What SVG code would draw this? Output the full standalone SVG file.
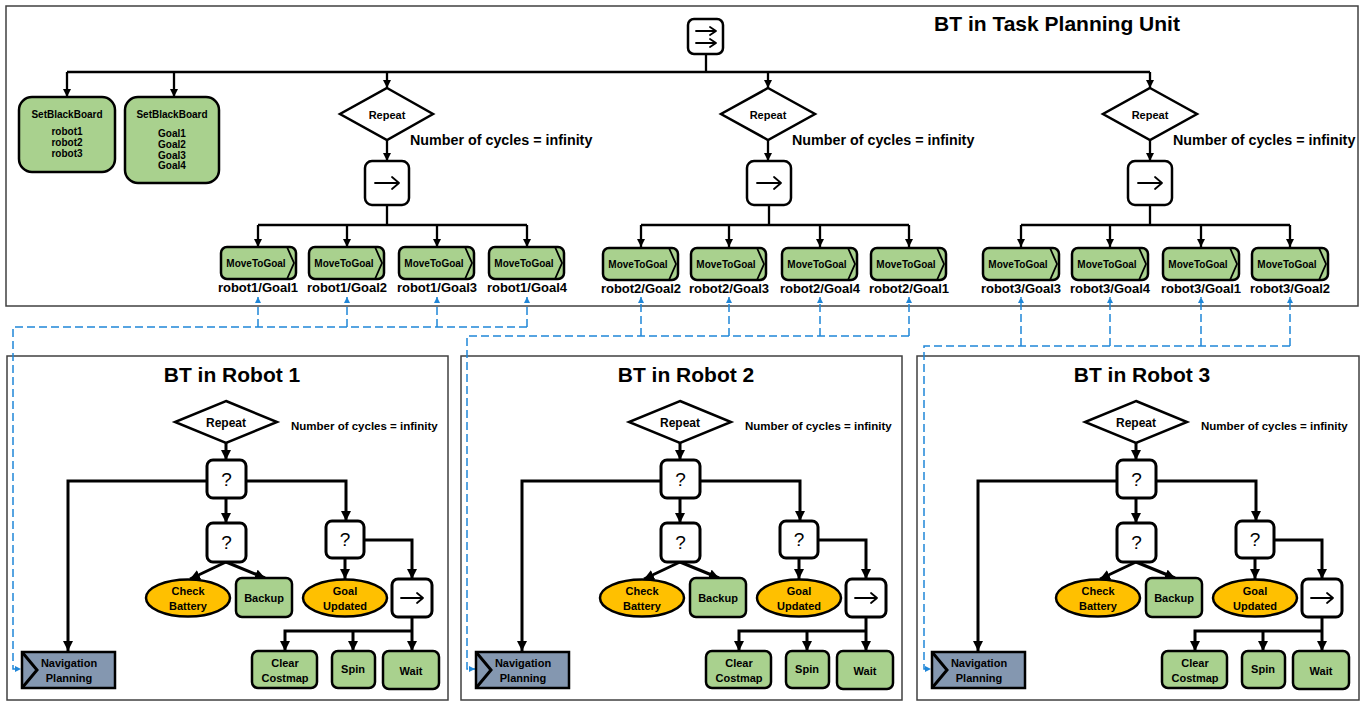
<svg xmlns="http://www.w3.org/2000/svg" width="1369" height="703" viewBox="0 0 1369 703">
<style>
.pn{fill:none;stroke:#404040;stroke-width:1.5}
.g{fill:#a9d18e;stroke:#000;stroke-width:2.5}
.o{fill:#ffc000;stroke:#000;stroke-width:2.5}
.w{fill:#fff;stroke:#000;stroke-width:2.5}
.nv{fill:#8497b0;stroke:#000;stroke-width:2.5}
.c{fill:none;stroke:#000;stroke-width:2.3}
.cr{fill:none;stroke:#000;stroke-width:3}
.d{fill:none;stroke:#1f86d8;stroke-width:1.5;stroke-dasharray:8 4}
.ai{fill:none;stroke:#000;stroke-width:1.8;stroke-linecap:round;stroke-linejoin:round}
.chev{fill:none;stroke:#000;stroke-width:1.8}
text{font-family:"Liberation Sans",Arial,sans-serif;font-weight:bold;text-anchor:middle;fill:#000}
.t{font-size:21px}
.nc{font-size:14.3px;text-anchor:start}
.ncs{font-size:11.5px;text-anchor:start}
.s10{font-size:10px}
.s11{font-size:11px}
.s12{font-size:12px}
.lb{font-size:13px}
.q{font-size:19px;font-weight:normal}
</style>
<defs>
<marker id="ah" viewBox="0 0 10 10" refX="10" refY="5" markerWidth="8" markerHeight="8" markerUnits="userSpaceOnUse" orient="auto"><path d="M0,0 L10,5 L0,10 z" fill="#000"/></marker>
<marker id="ahr" viewBox="0 0 10 10" refX="10" refY="5" markerWidth="10" markerHeight="10" markerUnits="userSpaceOnUse" orient="auto"><path d="M0,0 L10,5 L0,10 z" fill="#000"/></marker>
<marker id="ahb" viewBox="0 0 10 10" refX="10" refY="5" markerWidth="6" markerHeight="6" markerUnits="userSpaceOnUse" orient="auto"><path d="M0,0 L10,5 L0,10 z" fill="#1f86d8"/></marker>
</defs>

<!-- panels -->
<g id="panel-top"><rect class="pn" x="6" y="6" width="1352" height="300"/><text class="t" x="1057" y="31">BT in Task Planning Unit</text></g>
<g id="panel-r1"><rect class="pn" x="7" y="356" width="441" height="344"/><text class="t" x="232" y="382">BT in Robot 1</text></g>
<g id="panel-r2"><rect class="pn" x="461" y="356" width="441" height="344"/><text class="t" x="686" y="382">BT in Robot 2</text></g>
<g id="panel-r3"><rect class="pn" x="917" y="356" width="442" height="344"/><text class="t" x="1142" y="382">BT in Robot 3</text></g>

<!-- top connectors -->
<g id="connectors-top">
<path class="c" d="M706,54 V72 M67,72 H1150"/>
<path class="c" d="M67,72 V97" marker-end="url(#ah)"/>
<path class="c" d="M174,72 V97" marker-end="url(#ah)"/>
<path class="c" d="M387,72 V88" marker-end="url(#ah)"/>
<path class="c" d="M768,72 V88" marker-end="url(#ah)"/>
<path class="c" d="M1150,72 V88" marker-end="url(#ah)"/>
<path class="c" d="M387,140 V161" marker-end="url(#ah)"/>
<path class="c" d="M768,140 V161" marker-end="url(#ah)"/>
<path class="c" d="M1150,140 V161" marker-end="url(#ah)"/>
<path class="c" d="M387,205 V225 M258,225 H527 M769,205 V225 M641,225 H909 M1150,205 V225 M1021,225 H1290"/>
<path class="c" d="M258,225 V247" marker-end="url(#ah)"/>
<path class="c" d="M347,225 V247" marker-end="url(#ah)"/>
<path class="c" d="M437,225 V247" marker-end="url(#ah)"/>
<path class="c" d="M527,225 V247" marker-end="url(#ah)"/>
<path class="c" d="M641,225 V247" marker-end="url(#ah)"/>
<path class="c" d="M729,225 V247" marker-end="url(#ah)"/>
<path class="c" d="M820,225 V247" marker-end="url(#ah)"/>
<path class="c" d="M909,225 V247" marker-end="url(#ah)"/>
<path class="c" d="M1021,225 V247" marker-end="url(#ah)"/>
<path class="c" d="M1110,225 V247" marker-end="url(#ah)"/>
<path class="c" d="M1201,225 V247" marker-end="url(#ah)"/>
<path class="c" d="M1290,225 V247" marker-end="url(#ah)"/>
</g>

<!-- dashed links -->
<g id="connectors-dashed">
<path class="d" d="M258,327 V297" marker-end="url(#ahb)"/>
<path class="d" d="M347,327 V297" marker-end="url(#ahb)"/>
<path class="d" d="M437,327 V297" marker-end="url(#ahb)"/>
<path class="d" d="M527,327 V297" marker-end="url(#ahb)"/>
<path class="d" d="M527,327 H13 V669 H21" marker-end="url(#ahb)"/>
<path class="d" d="M641,336 V297" marker-end="url(#ahb)"/>
<path class="d" d="M729,336 V297" marker-end="url(#ahb)"/>
<path class="d" d="M820,336 V297" marker-end="url(#ahb)"/>
<path class="d" d="M909,336 V297" marker-end="url(#ahb)"/>
<path class="d" d="M909,336 H467 V669 H475" marker-end="url(#ahb)"/>
<path class="d" d="M1021,346 V297" marker-end="url(#ahb)"/>
<path class="d" d="M1110,346 V297" marker-end="url(#ahb)"/>
<path class="d" d="M1201,346 V297" marker-end="url(#ahb)"/>
<path class="d" d="M1290,346 V297" marker-end="url(#ahb)"/>
<path class="d" d="M1290,346 H924 V669 H931" marker-end="url(#ahb)"/>
</g>

<!-- top nodes -->
<g id="root-seq"><rect class="w" x="688" y="19" width="35" height="35" rx="6"/><path class="ai" d="M696,31 H716 M710,27 L716,31 L710,35 M696,43 H716 M710,39 L716,43 L710,47"/></g>
<g id="setbb-robots"><rect class="g" x="19" y="97" width="96" height="75" rx="13"/><text class="s10" x="67" y="118">SetBlackBoard</text><text class="s10" x="67" y="135">robot1</text><text class="s10" x="67" y="146">robot2</text><text class="s10" x="67" y="157">robot3</text></g>
<g id="setbb-goals"><rect class="g" x="125" y="97" width="94" height="86" rx="13"/><text class="s10" x="172" y="118">SetBlackBoard</text><text class="s10" x="172" y="137">Goal1</text><text class="s10" x="172" y="148">Goal2</text><text class="s10" x="172" y="159">Goal3</text><text class="s10" x="172" y="169">Goal4</text></g>

<g id="repeat-1"><polygon class="w" points="387,88 433,114 387,140 340,114"/><text class="s11" x="387" y="119">Repeat</text><text class="nc" x="410" y="145">Number of cycles = infinity</text></g>
<g id="repeat-2"><polygon class="w" points="768,88 815,114 768,140 721,114"/><text class="s11" x="768" y="119">Repeat</text><text class="nc" x="792" y="145">Number of cycles = infinity</text></g>
<g id="repeat-3"><polygon class="w" points="1150,88 1197,114 1150,140 1103,114"/><text class="s11" x="1150" y="119">Repeat</text><text class="nc" x="1173" y="145">Number of cycles = infinity</text></g>

<g id="seq-1"><rect class="w" x="365" y="161" width="44" height="44" rx="7"/><path class="ai" d="M375,183 H399 M392,177 L399,183 L392,189"/></g>
<g id="seq-2"><rect class="w" x="747" y="161" width="44" height="44" rx="7"/><path class="ai" d="M757,183 H781 M774,177 L781,183 L774,189"/></g>
<g id="seq-3"><rect class="w" x="1128" y="161" width="44" height="44" rx="7"/><path class="ai" d="M1138,183 H1162 M1155,177 L1162,183 L1155,189"/></g>

<g id="mtg-r1-g1"><rect class="g" x="221" y="247" width="75" height="32" rx="6"/><path class="chev" d="M287,247 L294,263 L287,279"/><text class="s10" x="256" y="267">MoveToGoal</text><text class="lb" x="258" y="292">robot1/Goal1</text></g>
<g id="mtg-r1-g2"><rect class="g" x="309" y="247" width="75" height="32" rx="6"/><path class="chev" d="M375,247 L382,263 L375,279"/><text class="s10" x="344" y="267">MoveToGoal</text><text class="lb" x="347" y="292">robot1/Goal2</text></g>
<g id="mtg-r1-g3"><rect class="g" x="399" y="247" width="75" height="32" rx="6"/><path class="chev" d="M465,247 L472,263 L465,279"/><text class="s10" x="434" y="267">MoveToGoal</text><text class="lb" x="437" y="292">robot1/Goal3</text></g>
<g id="mtg-r1-g4"><rect class="g" x="489" y="247" width="75" height="32" rx="6"/><path class="chev" d="M555,247 L562,263 L555,279"/><text class="s10" x="524" y="267">MoveToGoal</text><text class="lb" x="527" y="292">robot1/Goal4</text></g>

<g id="mtg-r2-g2"><rect class="g" x="603" y="248" width="75" height="32" rx="6"/><path class="chev" d="M669,248 L676,264 L669,280"/><text class="s10" x="638" y="268">MoveToGoal</text><text class="lb" x="641" y="293">robot2/Goal2</text></g>
<g id="mtg-r2-g3"><rect class="g" x="691" y="248" width="75" height="32" rx="6"/><path class="chev" d="M757,248 L764,264 L757,280"/><text class="s10" x="726" y="268">MoveToGoal</text><text class="lb" x="729" y="293">robot2/Goal3</text></g>
<g id="mtg-r2-g4"><rect class="g" x="782" y="248" width="75" height="32" rx="6"/><path class="chev" d="M848,248 L855,264 L848,280"/><text class="s10" x="817" y="268">MoveToGoal</text><text class="lb" x="820" y="293">robot2/Goal4</text></g>
<g id="mtg-r2-g1"><rect class="g" x="871" y="248" width="75" height="32" rx="6"/><path class="chev" d="M937,248 L944,264 L937,280"/><text class="s10" x="906" y="268">MoveToGoal</text><text class="lb" x="909" y="293">robot2/Goal1</text></g>

<g id="mtg-r3-g3"><rect class="g" x="983" y="248" width="76" height="32" rx="6"/><path class="chev" d="M1050,248 L1057,264 L1050,280"/><text class="s10" x="1018" y="268">MoveToGoal</text><text class="lb" x="1021" y="293">robot3/Goal3</text></g>
<g id="mtg-r3-g4"><rect class="g" x="1072" y="248" width="76" height="32" rx="6"/><path class="chev" d="M1139,248 L1146,264 L1139,280"/><text class="s10" x="1107" y="268">MoveToGoal</text><text class="lb" x="1110" y="293">robot3/Goal4</text></g>
<g id="mtg-r3-g1"><rect class="g" x="1163" y="248" width="76" height="32" rx="6"/><path class="chev" d="M1230,248 L1237,264 L1230,280"/><text class="s10" x="1198" y="268">MoveToGoal</text><text class="lb" x="1201" y="293">robot3/Goal1</text></g>
<g id="mtg-r3-g2"><rect class="g" x="1252" y="248" width="76" height="32" rx="6"/><path class="chev" d="M1319,248 L1326,264 L1319,280"/><text class="s10" x="1287" y="268">MoveToGoal</text><text class="lb" x="1290" y="293">robot3/Goal2</text></g>

<!-- Robot 1 -->
<g id="robot1">
<g id="r1-connectors">
<path class="cr" d="M226,443 V460" marker-end="url(#ahr)"/>
<path class="cr" d="M207,481 H68 V651" marker-end="url(#ahr)"/>
<path class="cr" d="M246,481 H346 V521" marker-end="url(#ahr)"/>
<path class="cr" d="M226,498 V523" marker-end="url(#ahr)"/>
<path class="cr" d="M226,562 L190,579" marker-end="url(#ahr)"/>
<path class="cr" d="M226,562 L265,578" marker-end="url(#ahr)"/>
<path class="cr" d="M345,558 V579" marker-end="url(#ahr)"/>
<path class="cr" d="M364,540 H412 V579" marker-end="url(#ahr)"/>
<path class="cr" d="M412,617 V651" marker-end="url(#ahr)"/>
<path class="cr" d="M412,631 H285 V651" marker-end="url(#ahr)"/>
<path class="cr" d="M353,631 V651" marker-end="url(#ahr)"/>
</g>
<g id="r1-repeat"><polygon class="w" points="226,401 277,422 226,443 175,422"/><text class="s12" x="226" y="427">Repeat</text><text class="ncs" x="291" y="430">Number of cycles = infinity</text></g>
<g id="r1-sel1"><rect class="cr" style="fill:#fff" x="207" y="460" width="39" height="38" rx="6"/><text class="q" x="226.5" y="486">?</text></g>
<g id="r1-sel2"><rect class="cr" style="fill:#fff" x="207" y="523" width="39" height="39" rx="6"/><text class="q" x="226.5" y="549">?</text></g>
<g id="r1-sel3"><rect class="cr" style="fill:#fff" x="326" y="521" width="38" height="37" rx="6"/><text class="q" x="345" y="546">?</text></g>
<g id="r1-check"><ellipse class="o" cx="188" cy="598" rx="42" ry="18.5"/><text class="s11" x="188" y="595">Check</text><text class="s11" x="188" y="610">Battery</text></g>
<g id="r1-backup"><rect class="g" x="236" y="578" width="56" height="39" rx="6"/><text class="s11" x="264" y="602">Backup</text></g>
<g id="r1-goal"><ellipse class="o" cx="345" cy="598" rx="42" ry="18.5"/><text class="s11" x="345" y="595">Goal</text><text class="s11" x="345" y="610">Updated</text></g>
<g id="r1-seq"><rect class="cr" style="fill:#fff" x="392" y="579" width="40" height="38" rx="6"/><path class="ai" d="M401,598 H423 M417,593 L423,598 L417,603"/></g>
<g id="r1-clear"><rect class="g" x="252" y="651" width="65" height="37" rx="6"/><text class="s11" x="285" y="667">Clear</text><text class="s11" x="285" y="682">Costmap</text></g>
<g id="r1-spin"><rect class="g" x="332" y="651" width="43" height="37" rx="6"/><text class="s11" x="353" y="673">Spin</text></g>
<g id="r1-wait"><rect class="g" x="383" y="651" width="56" height="38" rx="6"/><text class="s11" x="411" y="675">Wait</text></g>
<g id="r1-nav"><rect class="nv" x="22" y="652" width="93" height="36"/><path class="cr" d="M22,652 L37,670 L22,688"/><text class="s11" x="69" y="667">Navigation</text><text class="s11" x="69" y="682">Planning</text></g>
</g>

<!-- Robot 2 -->
<g id="robot2" transform="translate(454,0)">
<g id="r2-connectors">
<path class="cr" d="M226,443 V460" marker-end="url(#ahr)"/>
<path class="cr" d="M207,481 H68 V651" marker-end="url(#ahr)"/>
<path class="cr" d="M246,481 H346 V521" marker-end="url(#ahr)"/>
<path class="cr" d="M226,498 V523" marker-end="url(#ahr)"/>
<path class="cr" d="M226,562 L190,579" marker-end="url(#ahr)"/>
<path class="cr" d="M226,562 L265,578" marker-end="url(#ahr)"/>
<path class="cr" d="M345,558 V579" marker-end="url(#ahr)"/>
<path class="cr" d="M364,540 H412 V579" marker-end="url(#ahr)"/>
<path class="cr" d="M412,617 V651" marker-end="url(#ahr)"/>
<path class="cr" d="M412,631 H285 V651" marker-end="url(#ahr)"/>
<path class="cr" d="M353,631 V651" marker-end="url(#ahr)"/>
</g>
<g id="r2-repeat"><polygon class="w" points="226,401 277,422 226,443 175,422"/><text class="s12" x="226" y="427">Repeat</text><text class="ncs" x="291" y="430">Number of cycles = infinity</text></g>
<g id="r2-sel1"><rect class="cr" style="fill:#fff" x="207" y="460" width="39" height="38" rx="6"/><text class="q" x="226.5" y="486">?</text></g>
<g id="r2-sel2"><rect class="cr" style="fill:#fff" x="207" y="523" width="39" height="39" rx="6"/><text class="q" x="226.5" y="549">?</text></g>
<g id="r2-sel3"><rect class="cr" style="fill:#fff" x="326" y="521" width="38" height="37" rx="6"/><text class="q" x="345" y="546">?</text></g>
<g id="r2-check"><ellipse class="o" cx="188" cy="598" rx="42" ry="18.5"/><text class="s11" x="188" y="595">Check</text><text class="s11" x="188" y="610">Battery</text></g>
<g id="r2-backup"><rect class="g" x="236" y="578" width="56" height="39" rx="6"/><text class="s11" x="264" y="602">Backup</text></g>
<g id="r2-goal"><ellipse class="o" cx="345" cy="598" rx="42" ry="18.5"/><text class="s11" x="345" y="595">Goal</text><text class="s11" x="345" y="610">Updated</text></g>
<g id="r2-seq"><rect class="cr" style="fill:#fff" x="392" y="579" width="40" height="38" rx="6"/><path class="ai" d="M401,598 H423 M417,593 L423,598 L417,603"/></g>
<g id="r2-clear"><rect class="g" x="252" y="651" width="65" height="37" rx="6"/><text class="s11" x="285" y="667">Clear</text><text class="s11" x="285" y="682">Costmap</text></g>
<g id="r2-spin"><rect class="g" x="332" y="651" width="43" height="37" rx="6"/><text class="s11" x="353" y="673">Spin</text></g>
<g id="r2-wait"><rect class="g" x="383" y="651" width="56" height="38" rx="6"/><text class="s11" x="411" y="675">Wait</text></g>
<g id="r2-nav"><rect class="nv" x="22" y="652" width="93" height="36"/><path class="cr" d="M22,652 L37,670 L22,688"/><text class="s11" x="69" y="667">Navigation</text><text class="s11" x="69" y="682">Planning</text></g>
</g>

<!-- Robot 3 -->
<g id="robot3" transform="translate(910,0)">
<g id="r3-connectors">
<path class="cr" d="M226,443 V460" marker-end="url(#ahr)"/>
<path class="cr" d="M207,481 H68 V651" marker-end="url(#ahr)"/>
<path class="cr" d="M246,481 H346 V521" marker-end="url(#ahr)"/>
<path class="cr" d="M226,498 V523" marker-end="url(#ahr)"/>
<path class="cr" d="M226,562 L190,579" marker-end="url(#ahr)"/>
<path class="cr" d="M226,562 L265,578" marker-end="url(#ahr)"/>
<path class="cr" d="M345,558 V579" marker-end="url(#ahr)"/>
<path class="cr" d="M364,540 H412 V579" marker-end="url(#ahr)"/>
<path class="cr" d="M412,617 V651" marker-end="url(#ahr)"/>
<path class="cr" d="M412,631 H285 V651" marker-end="url(#ahr)"/>
<path class="cr" d="M353,631 V651" marker-end="url(#ahr)"/>
</g>
<g id="r3-repeat"><polygon class="w" points="226,401 277,422 226,443 175,422"/><text class="s12" x="226" y="427">Repeat</text><text class="ncs" x="291" y="430">Number of cycles = infinity</text></g>
<g id="r3-sel1"><rect class="cr" style="fill:#fff" x="207" y="460" width="39" height="38" rx="6"/><text class="q" x="226.5" y="486">?</text></g>
<g id="r3-sel2"><rect class="cr" style="fill:#fff" x="207" y="523" width="39" height="39" rx="6"/><text class="q" x="226.5" y="549">?</text></g>
<g id="r3-sel3"><rect class="cr" style="fill:#fff" x="326" y="521" width="38" height="37" rx="6"/><text class="q" x="345" y="546">?</text></g>
<g id="r3-check"><ellipse class="o" cx="188" cy="598" rx="42" ry="18.5"/><text class="s11" x="188" y="595">Check</text><text class="s11" x="188" y="610">Battery</text></g>
<g id="r3-backup"><rect class="g" x="236" y="578" width="56" height="39" rx="6"/><text class="s11" x="264" y="602">Backup</text></g>
<g id="r3-goal"><ellipse class="o" cx="345" cy="598" rx="42" ry="18.5"/><text class="s11" x="345" y="595">Goal</text><text class="s11" x="345" y="610">Updated</text></g>
<g id="r3-seq"><rect class="cr" style="fill:#fff" x="392" y="579" width="40" height="38" rx="6"/><path class="ai" d="M401,598 H423 M417,593 L423,598 L417,603"/></g>
<g id="r3-clear"><rect class="g" x="252" y="651" width="65" height="37" rx="6"/><text class="s11" x="285" y="667">Clear</text><text class="s11" x="285" y="682">Costmap</text></g>
<g id="r3-spin"><rect class="g" x="332" y="651" width="43" height="37" rx="6"/><text class="s11" x="353" y="673">Spin</text></g>
<g id="r3-wait"><rect class="g" x="383" y="651" width="56" height="38" rx="6"/><text class="s11" x="411" y="675">Wait</text></g>
<g id="r3-nav"><rect class="nv" x="22" y="652" width="93" height="36"/><path class="cr" d="M22,652 L37,670 L22,688"/><text class="s11" x="69" y="667">Navigation</text><text class="s11" x="69" y="682">Planning</text></g>
</g>
</svg>
